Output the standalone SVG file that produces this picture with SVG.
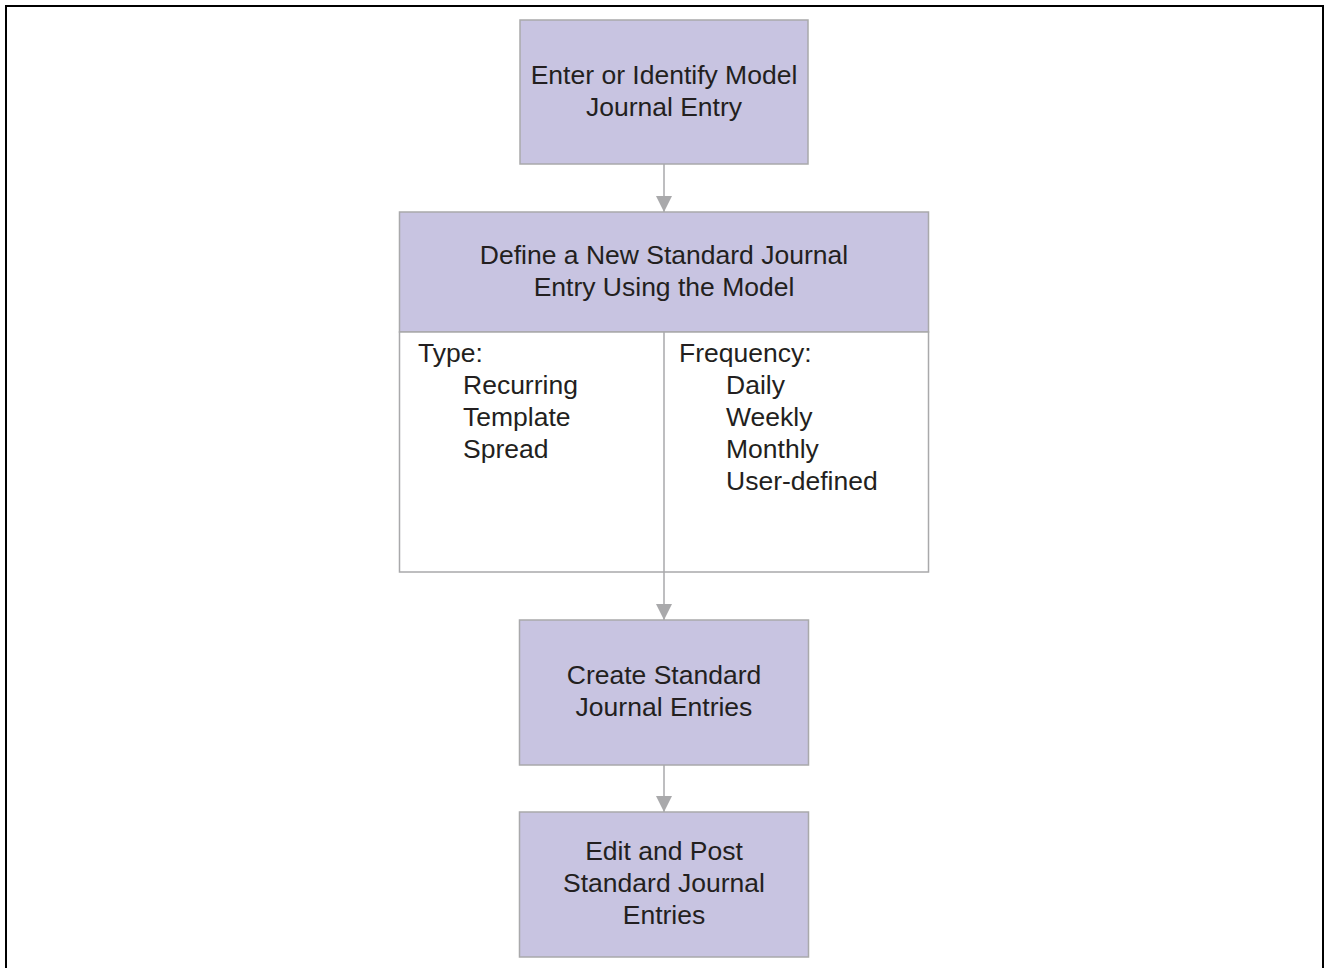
<svg xmlns="http://www.w3.org/2000/svg" width="1328" height="968" viewBox="0 0 1328 968">
<defs>
<style>
.box{fill:#c8c4e1;stroke:#a9a9ab;stroke-width:1.5}
.cell{fill:#ffffff;stroke:#a9a9ab;stroke-width:1.5}
.t{font-family:"Liberation Sans",Arial,sans-serif;font-size:26.5px;fill:#231f20}
.c{text-anchor:middle}
.conn{stroke:#a9a9ab;stroke-width:1.5;fill:none}
</style>
<marker id="arr" viewBox="0 0 16 16" refX="16" refY="8" markerWidth="16" markerHeight="16" markerUnits="userSpaceOnUse" orient="auto">
<path d="M0,0 L16,8 L0,16 Z" fill="#a9a9ab"/>
</marker>
</defs>
<rect x="0" y="0" width="1328" height="968" fill="#ffffff"/>
<path d="M6,968 V6 H1323 V968" fill="none" stroke="#000000" stroke-width="2"/>
<g id="n1">
<rect class="box" x="520" y="20" width="288" height="144"/>
<text class="t c" x="664" y="84">Enter or Identify Model</text>
<text class="t c" x="664" y="116">Journal Entry</text>
</g>
<g id="n2">
<rect class="box" x="399.5" y="212" width="529" height="120"/>
<rect class="cell" x="399.5" y="332" width="529" height="240"/>
<line x1="664" y1="332" x2="664" y2="572" stroke="#a9a9ab" stroke-width="1.5"/>
<text class="t c" x="664" y="264">Define a New Standard Journal</text>
<text class="t c" x="664" y="296">Entry Using the Model</text>
<text class="t" x="418" y="362">Type:</text>
<text class="t" x="463" y="394">Recurring</text>
<text class="t" x="463" y="426">Template</text>
<text class="t" x="463" y="458">Spread</text>
<text class="t" x="679" y="362">Frequency:</text>
<text class="t" x="726" y="394">Daily</text>
<text class="t" x="726" y="426">Weekly</text>
<text class="t" x="726" y="458">Monthly</text>
<text class="t" x="726" y="490">User-defined</text>
</g>
<g id="n3">
<rect class="box" x="519.5" y="620" width="289" height="145"/>
<text class="t c" x="664" y="684">Create Standard</text>
<text class="t c" x="664" y="716">Journal Entries</text>
</g>
<g id="n4">
<rect class="box" x="519.5" y="812" width="289" height="145"/>
<text class="t c" x="664" y="860">Edit and Post</text>
<text class="t c" x="664" y="892">Standard Journal</text>
<text class="t c" x="664" y="924">Entries</text>
</g>
<g id="connectors">
<line class="conn" x1="664" y1="164" x2="664" y2="212" marker-end="url(#arr)"/>
<line class="conn" x1="664" y1="572" x2="664" y2="620" marker-end="url(#arr)"/>
<line class="conn" x1="664" y1="765" x2="664" y2="812" marker-end="url(#arr)"/>
</g>
</svg>
